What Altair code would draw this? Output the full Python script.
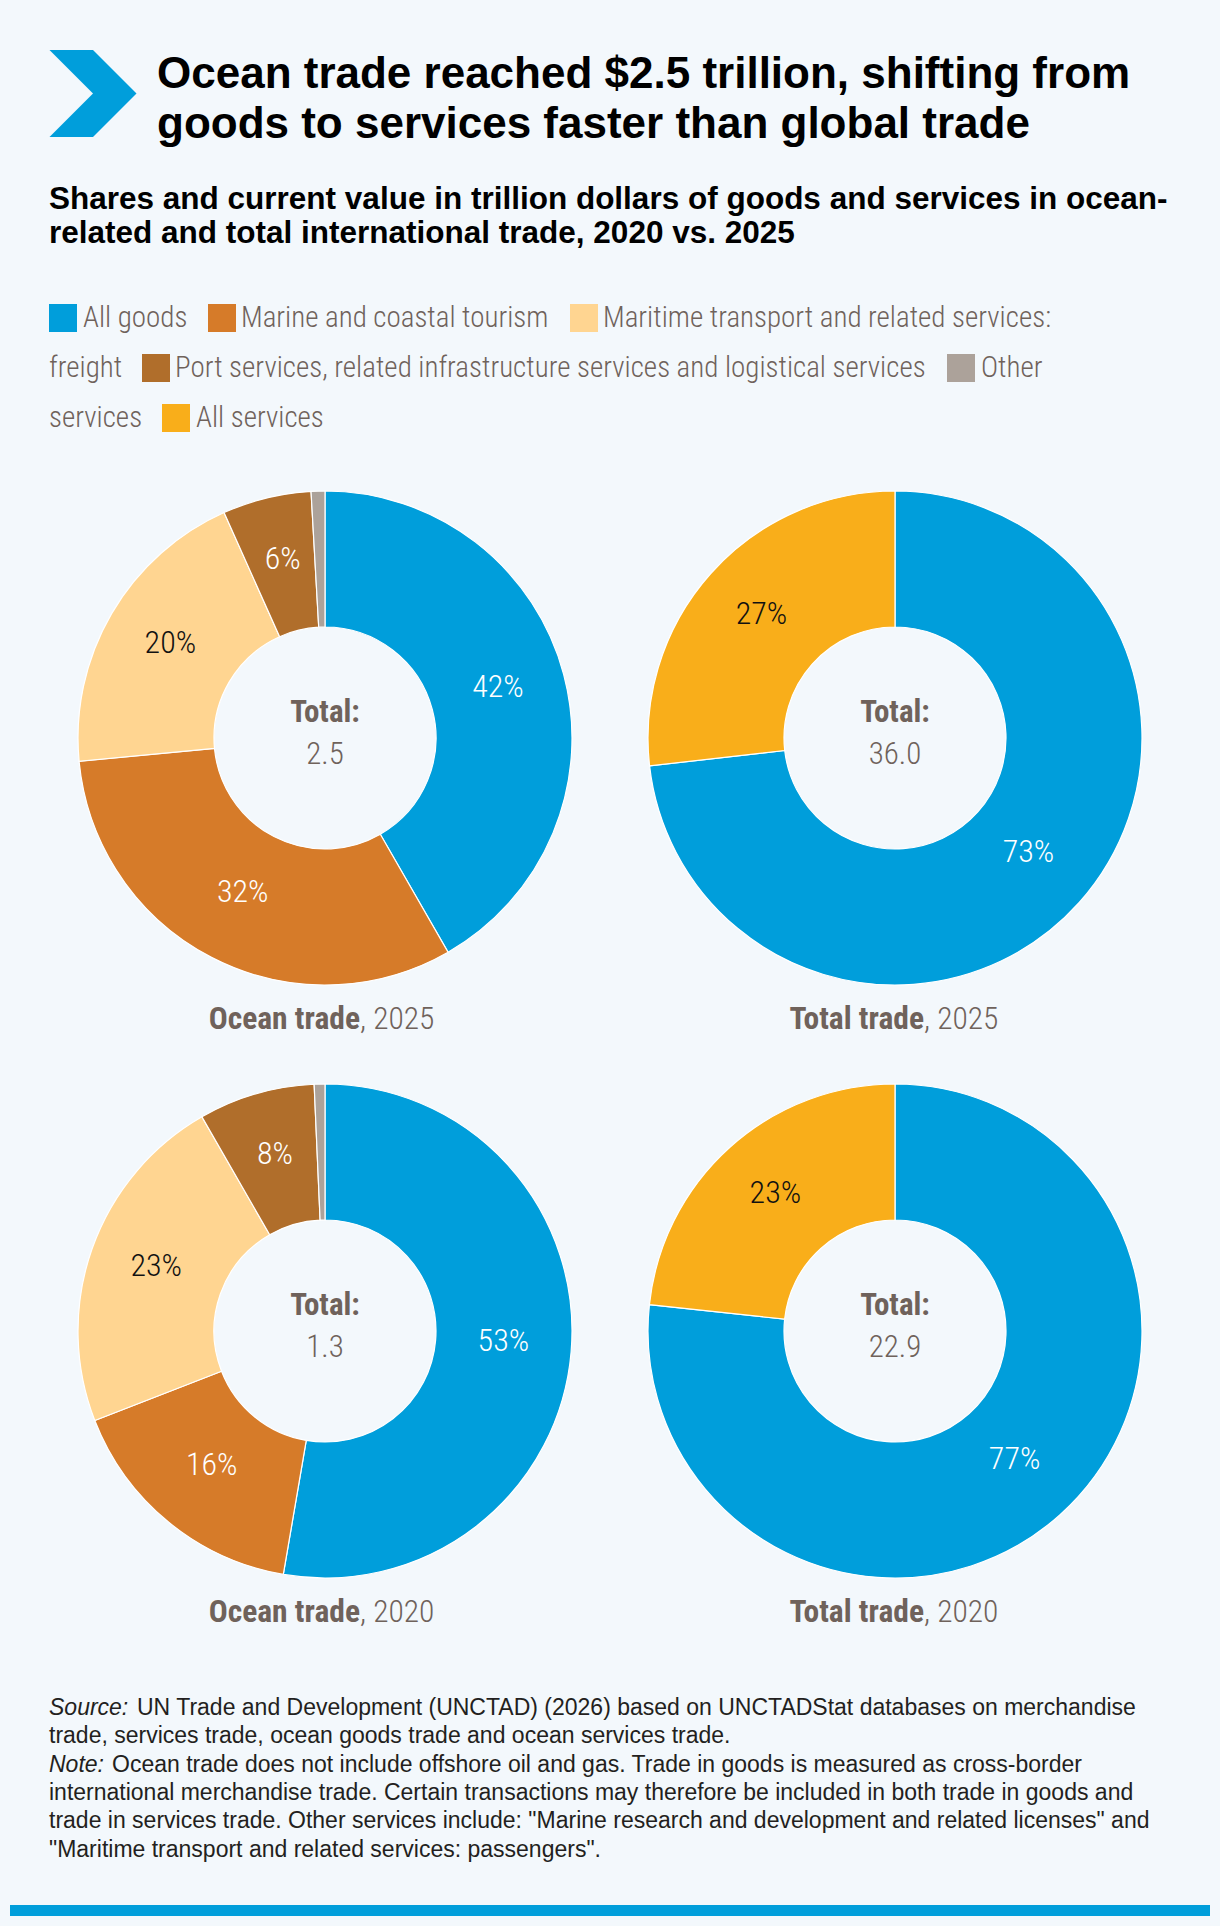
import altair as alt
import pandas as pd

# ---------------- data ----------------
CATEGORIES = [
    "All goods",
    "Marine and coastal tourism",
    "Maritime transport and related services: freight",
    "Port services, related infrastructure services and logistical services",
    "Other services",
    "All services",
]
COLORS = ["#009edb", "#d67b29", "#ffd591", "#b06e2b", "#aca29a", "#f9ae1a"]
DARK_LABEL_CATEGORIES = [CATEGORIES[2], CATEGORIES[5]]

ocean_categories = CATEGORIES[:5]
total_categories = [CATEGORIES[0], CATEGORIES[5]]

ocean_2025 = [41.7, 31.8, 19.8, 5.8, 0.9]
ocean_2020 = [52.7, 16.4, 22.6, 7.6, 0.7]
total_2025 = [73.2, 26.8]
total_2020 = [76.7, 23.3]

total_values = [2.5, 36.0, 1.3, 22.9]          # trillion dollars
panel_names = ["Ocean trade", "Total trade", "Ocean trade", "Total trade"]
panel_years = ["2025", "2025", "2020", "2020"]
panel_shares = [ocean_2025, total_2025, ocean_2020, total_2020]
panel_categories = [ocean_categories, total_categories, ocean_categories, total_categories]

TITLE_LINES = [
    "Ocean trade reached $2.5 trillion, shifting from",
    "goods to services faster than global trade",
]
SUBTITLE_LINES = [
    "Shares and current value in trillion dollars of goods and services in ocean-",
    "related and total international trade, 2020 vs. 2025",
]
LEGEND_TEXTS = ["All goods", "Marine and coastal tourism", "Maritime transport and related services:",
                "freight", "Port services, related infrastructure services and logistical services", "Other",
                "services", "All services"]
FOOT_LINES = [
    ("Source:", "UN Trade and Development (UNCTAD) (2026) based on UNCTADStat databases on merchandise"),
    ("", "trade, services trade, ocean goods trade and ocean services trade."),
    ("Note:", "Ocean trade does not include offshore oil and gas. Trade in goods is measured as cross-border"),
    ("", "international merchandise trade. Certain transactions may therefore be included in both trade in goods and"),
    ("", "trade in services trade. Other services include: \"Marine research and development and related licenses\" and"),
    ("", "\"Maritime transport and related services: passengers\"."),
]

# ---------------- layout / style ----------------
W, H = 1220, 1926
BG = "#f3f8fc"
BLUE = "#009edb"
SANS = "Liberation Sans"
COND = "Roboto Condensed"
BROWN_TXT = "#6f625b"
PIE_CENTERS = [(325, 738), (895, 738), (325, 1331), (895, 1331)]
CAPTION_SPLIT = [35, 29, 35, 29]
R_IN, R_OUT, R_LABEL = 111, 247, 179

color_scale = alt.Scale(domain=CATEGORIES, range=COLORS)
one = pd.DataFrame({"k": [0]})
layers = []

# chevron
layers.append(
    alt.Chart(one).mark_point(
        shape="M-1,-1L0,-1L1,0L0,1L-1,1L0,0Z", size=87 * 87, filled=True,
        color=BLUE, opacity=1, strokeWidth=0,
    ).encode(x=alt.value(93), y=alt.value(93.5))
)
# title
for i, line in enumerate(TITLE_LINES):
    layers.append(
        alt.Chart(one).mark_text(
            text=line, font=SANS, fontSize=44, fontWeight="bold", color="#000000",
            align="left", baseline="alphabetic",
        ).encode(x=alt.value(157), y=alt.value(88 + 50 * i))
    )
for i, line in enumerate(SUBTITLE_LINES):
    layers.append(
        alt.Chart(one).mark_text(
            text=line, font=SANS, fontSize=31.5, fontWeight="bold", color="#000000",
            align="left", baseline="alphabetic",
        ).encode(x=alt.value(49), y=alt.value(209 + 34 * i))
    )

# custom legend (flowing, wrapped like the original)
legend_squares = pd.DataFrame({
    "category": CATEGORIES,
    "x": [49, 208, 570, 142, 947, 162],
    "y": [304, 304, 304, 354, 354, 404],
})
legend_squares["x2"] = legend_squares["x"] + 28
legend_squares["y2"] = legend_squares["y"] + 28
layers.append(
    alt.Chart(legend_squares).mark_rect().encode(
        x=alt.X("x:Q", scale=None), x2="x2:Q",
        y=alt.Y("y:Q", scale=None), y2="y2:Q",
        color=alt.Color("category:N", scale=color_scale, legend=None),
    )
)
legend_texts = pd.DataFrame({
    "text": LEGEND_TEXTS,
    "x": [83, 241, 603, 49, 175, 981, 49, 196],
    "y": [327, 327, 327, 377, 377, 377, 427, 427],
})
layers.append(
    alt.Chart(legend_texts).mark_text(
        font=COND, fontSize=29, fontWeight=300, color=BROWN_TXT, align="left", baseline="alphabetic",
    ).encode(x=alt.X("x:Q", scale=None), y=alt.Y("y:Q", scale=None), text="text:N")
)

# pies
for cats, shares, total, name, year, (cx, cy), split in zip(
    panel_categories, panel_shares, total_values, panel_names, panel_years, PIE_CENTERS, CAPTION_SPLIT
):
    df = pd.DataFrame({"category": cats, "share": shares, "rank": list(range(len(cats)))})
    base = alt.Chart(df).encode(
        theta=alt.Theta("share:Q", stack=True, scale=alt.Scale(domain=[0, 100])),
        order=alt.Order("rank:Q", sort="ascending"),
        detail="category:N",
        x=alt.value(cx), y=alt.value(cy),
    )
    layers.append(
        base.mark_arc(innerRadius=R_IN, outerRadius=R_OUT, stroke="white", strokeWidth=1.2).encode(
            color=alt.Color("category:N", scale=color_scale, legend=None)
        )
    )
    layers.append(
        base.transform_filter("datum.share >= 2")
        .transform_calculate(label="format(datum.share / 100, '.0%')")
        .mark_text(radius=R_LABEL, font=COND, fontSize=32, fontWeight=300, baseline="middle", dy=-5)
        .encode(
            text="label:N",
            color=alt.condition(
                alt.FieldOneOfPredicate(field="category", oneOf=DARK_LABEL_CATEGORIES),
                alt.value("#111111"), alt.value("#ffffff"),
            ),
        )
    )
    tdf = pd.DataFrame({"total": [total]})
    layers.append(
        alt.Chart(tdf).mark_text(
            text="Total:", font=COND, fontSize=31, fontWeight="bold", color=BROWN_TXT,
            baseline="alphabetic",
        ).encode(x=alt.value(cx), y=alt.value(cy - 16))
    )
    layers.append(
        alt.Chart(tdf).transform_calculate(v="format(datum.total, '.1f')").mark_text(
            font=COND, fontSize=31, fontWeight=300, color=BROWN_TXT, baseline="alphabetic",
        ).encode(text="v:N", x=alt.value(cx), y=alt.value(cy + 26))
    )
    layers.append(
        alt.Chart(tdf).mark_text(
            text=name, font=COND, fontSize=31.5, fontWeight="bold", color=BROWN_TXT,
            align="right", baseline="alphabetic",
        ).encode(x=alt.value(cx + split), y=alt.value(cy + 291))
    )
    layers.append(
        alt.Chart(tdf).mark_text(
            text=", " + year, font=COND, fontSize=31.5, fontWeight=300, color=BROWN_TXT,
            align="left", baseline="alphabetic",
        ).encode(x=alt.value(cx + split), y=alt.value(cy + 291))
    )

# footnotes
FOOT_Y0, FOOT_DY = 1715, 28.3
TEXT_START = {"Source:": 137, "Note:": 112, "": 49}
for i, (ital, rest) in enumerate(FOOT_LINES):
    y = FOOT_Y0 + FOOT_DY * i
    if ital:
        layers.append(
            alt.Chart(one).mark_text(
                text=ital, font=SANS, fontSize=23, fontStyle="italic", color="#231f20",
                align="left", baseline="alphabetic",
            ).encode(x=alt.value(49), y=alt.value(y))
        )
    layers.append(
        alt.Chart(one).mark_text(
            text=rest, font=SANS, fontSize=23, color="#231f20",
            align="left", baseline="alphabetic",
        ).encode(x=alt.value(TEXT_START[ital]), y=alt.value(y))
    )

# bottom bar
layers.append(
    alt.Chart(one).mark_rect(color=BLUE).encode(
        x=alt.value(10), x2=alt.value(1210), y=alt.value(1905), y2=alt.value(1916)
    )
)

chart = (
    alt.layer(*layers)
    .properties(width=W, height=H, background=BG, padding=0, autosize="none")
    .configure_view(stroke=None)
)
chart.save("out.html", embed_options={"renderer": "svg", "actions": False})
